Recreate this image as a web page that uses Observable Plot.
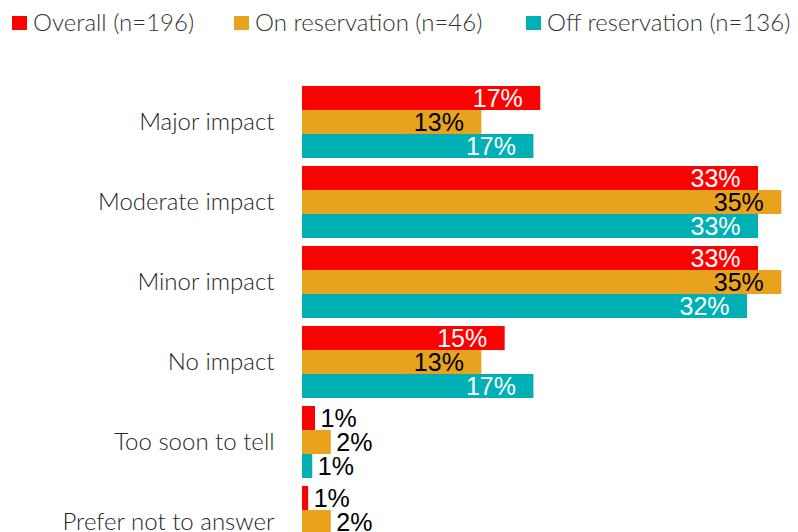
<!DOCTYPE html>
<html>
<head>
<meta charset="utf-8">
<script src="https://cdn.jsdelivr.net/npm/d3@7"></script>
<script src="https://cdn.jsdelivr.net/npm/@observablehq/plot@0.6"></script>
<style>
  html, body { margin: 0; padding: 0; background: #fff; overflow: hidden; width: 798px; height: 532px; }
  #legend { position: relative; height: 40px; font-family: Lato, "Open Sans", sans-serif; font-weight: 300; font-size: 24px; color: #333; white-space: nowrap; }
  .item { position: absolute; top: 8px; display: flex; align-items: center; line-height: 28px; white-space: nowrap; }
  .sw { width: 15px; height: 14px; margin-right: 6px; margin-top: 1px; }
  #chart svg { display: block; }
</style>
</head>
<body>
<div id="legend"></div>
<div id="chart"></div>
<script>
const categories = ["Major impact", "Moderate impact", "Minor impact", "No impact", "Too soon to tell", "Prefer not to answer"];
const series = ["Overall (n=196)", "On reservation (n=46)", "Off reservation (n=136)"];
const colors = ["#ff0000", "#e8a21e", "#00b0b4"];
const overall = [17.4, 33.3, 33.3, 14.8, 0.95, 0.45];
const onRes = [13.1, 35.0, 35.0, 13.1, 2.1, 2.1];
const offRes = [16.9, 33.3, 32.5, 16.9, 0.75, 0.5];
const labelsOverall = ["17%", "33%", "33%", "15%", "1%", "1%"];
const labelsOn = ["13%", "35%", "35%", "13%", "2%", "2%"];
const labelsOff = ["17%", "33%", "32%", "17%", "1%", "1%"];

const seriesValues = [overall, onRes, offRes];
const seriesLabels = [labelsOverall, labelsOn, labelsOff];
const data = [];
categories.forEach((c, i) => {
  series.forEach((s, j) => {
    data.push({cat: c, series: s, value: seriesValues[j][i], label: seriesLabels[j][i], idx: j});
  });
});

const legend = document.getElementById("legend");
const legendLeft = [12, 234, 526];
series.forEach((s, j) => {
  const it = document.createElement("div");
  it.className = "item";
  it.style.left = legendLeft[j] + "px";
  const sw = document.createElement("div");
  sw.className = "sw";
  sw.style.background = colors[j];
  const tx = document.createElement("span");
  tx.textContent = s;
  it.appendChild(sw); it.appendChild(tx);
  legend.appendChild(it);
});

const inside = data.filter(d => d.value >= 5);
const outside = data.filter(d => d.value < 5);

const chart = Plot.plot({
  width: 798,
  height: 530,
  marginLeft: 302,
  marginRight: 3,
  marginTop: 45,
  marginBottom: 12,
  x: {domain: [0, 36], axis: null},
  y: {domain: series, padding: 0, axis: null},
  fy: {domain: categories, paddingInner: 0.0875, paddingOuter: 0, label: null},
  color: {domain: series, range: colors},
  marks: [
    Plot.barX(data, {x: "value", y: "series", fy: "cat", fill: "series"}),
    Plot.text(inside, {x: "value", y: "series", fy: "cat", text: "label", textAnchor: "end", dx: -18,
      fill: d => d.idx === 1 ? "#000" : "#fff", fontSize: 25, fontFamily: "Liberation Sans, Arial, sans-serif"}),
    Plot.text(outside, {x: "value", y: "series", fy: "cat", text: "label", textAnchor: "start", dx: 5,
      fill: "#000", fontSize: 25, fontFamily: "Liberation Sans, Arial, sans-serif"}),
    Plot.axisFy({anchor: "left", tickSize: 0, tickPadding: 28, label: null, fontSize: 24,
      fontFamily: "Lato, sans-serif", fontWeight: 300, fill: "#262626"})
  ]
});
document.getElementById("chart").appendChild(chart);
</script>
</body>
</html>
